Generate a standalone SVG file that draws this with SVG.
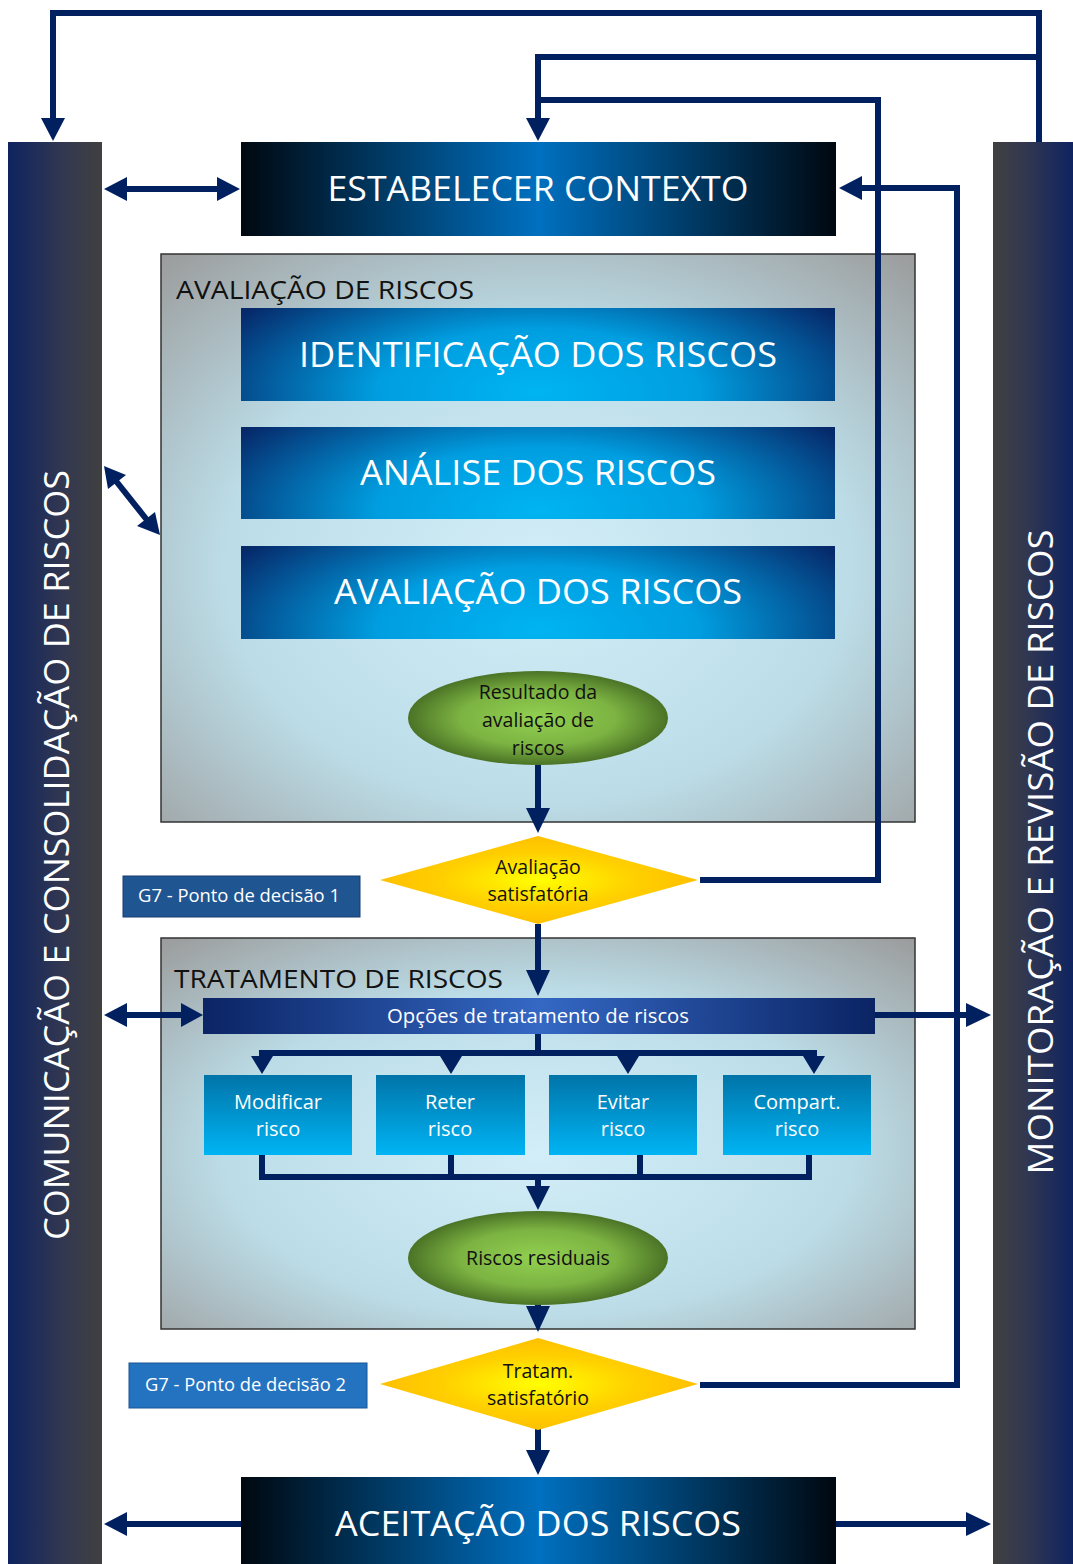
<svg xmlns="http://www.w3.org/2000/svg" width="1073" height="1564" viewBox="0 0 1073 1564">
<defs>
<linearGradient id="barL" x1="0" y1="0" x2="1" y2="0"><stop offset="0" stop-color="#0e2360"/><stop offset="0.6" stop-color="#333850"/><stop offset="1" stop-color="#404040"/></linearGradient>
<linearGradient id="barR" x1="0" y1="0" x2="1" y2="0"><stop offset="0" stop-color="#404040"/><stop offset="0.4" stop-color="#333850"/><stop offset="1" stop-color="#0e2360"/></linearGradient>
<linearGradient id="dark" x1="0" y1="0" x2="1" y2="0"><stop offset="0" stop-color="#000810"/><stop offset="0.5" stop-color="#0070c0"/><stop offset="1" stop-color="#000810"/></linearGradient>
<radialGradient id="panel" cx="0.5" cy="0.55" r="0.75"><stop offset="0" stop-color="#d2eef8"/><stop offset="0.55" stop-color="#bcdde8"/><stop offset="1" stop-color="#9a9a9a"/></radialGradient>
<radialGradient id="step" cx="0.5" cy="0.9" r="0.6" gradientTransform="translate(0.5 0.9) scale(1 2.5) translate(-0.5 -0.9)"><stop offset="0" stop-color="#00b4f2"/><stop offset="0.45" stop-color="#009ee0"/><stop offset="1" stop-color="#06296a"/></radialGradient>
<radialGradient id="green" cx="0.5" cy="0.5" r="0.5"><stop offset="0" stop-color="#92d050"/><stop offset="0.6" stop-color="#7cb342"/><stop offset="1" stop-color="#4b7326"/></radialGradient>
<radialGradient id="gold" cx="0.5" cy="0.5" r="0.5"><stop offset="0" stop-color="#ffff00"/><stop offset="0.6" stop-color="#ffd000"/><stop offset="1" stop-color="#ffc000"/></radialGradient>
<linearGradient id="opt" x1="0" y1="0" x2="1" y2="0"><stop offset="0" stop-color="#0b2464"/><stop offset="0.5" stop-color="#3468c4"/><stop offset="1" stop-color="#0b2464"/></linearGradient>
<linearGradient id="choice" x1="0" y1="0" x2="0" y2="1"><stop offset="0" stop-color="#0074a8"/><stop offset="1" stop-color="#00b4f4"/></linearGradient>
</defs>
<style>
.line{fill:none;stroke:#002060;stroke-width:6}
.head{fill:#002060}
.big{font-family:"Open Sans","DejaVu Sans",sans-serif;fill:#fff;font-size:35px;text-anchor:middle}
.hdr{font-family:"Open Sans","DejaVu Sans",sans-serif;fill:#111;font-size:26px}
.bar{font-family:"Open Sans","DejaVu Sans",sans-serif;fill:#fff;font-size:34px;text-anchor:middle}
.sm{font-family:"Open Sans","DejaVu Sans",sans-serif;fill:#111;font-size:19.5px;text-anchor:middle}
.smw{font-family:"Open Sans","DejaVu Sans",sans-serif;fill:#fff;font-size:20px;text-anchor:middle}
.lbl{font-family:"Open Sans","DejaVu Sans",sans-serif;fill:#fff;font-size:18px}
</style>
<rect width="1073" height="1564" fill="#fff"/>

<g id="bar-left">
<rect x="8" y="142" width="94" height="1422" fill="url(#barL)"/>
<text class="bar" transform="translate(69 855) rotate(-90)" textLength="770" lengthAdjust="spacingAndGlyphs">COMUNICAÇÃO E CONSOLIDAÇÃO DE RISCOS</text>
</g>
<g id="bar-right">
<rect x="993" y="142" width="80" height="1422" fill="url(#barR)"/>
<text class="bar" transform="translate(1053 852) rotate(-90)" textLength="645" lengthAdjust="spacingAndGlyphs">MONITORAÇÃO E REVISÃO DE RISCOS</text>
</g>

<g id="panel-avaliacao">
<rect x="161" y="254" width="754" height="568" fill="url(#panel)" stroke="#333" stroke-width="1.5"/>
<text class="hdr" x="176" y="299" textLength="298" lengthAdjust="spacingAndGlyphs">AVALIAÇÃO DE RISCOS</text>
</g>
<g id="panel-tratamento">
<rect x="161" y="938" width="754" height="391" fill="url(#panel)" stroke="#333" stroke-width="1.5"/>
<text class="hdr" x="174" y="988" textLength="329" lengthAdjust="spacingAndGlyphs">TRATAMENTO DE RISCOS</text>
</g>

<g id="connectors">
<polyline class="line" points="1039,142 1039,13 53,13 53,122" />
<path class="head" d="M41,118 L65,118 L53,141 z"/>
<polyline class="line" points="1039,57 538,57 538,122"/>
<path class="head" d="M526,118 L550,118 L538,141 z"/>
<polyline class="line" points="700,880 878,880 878,100 538,100"/>
<polyline class="line" points="700,1385 957,1385 957,188 858,188"/>
<path class="head" d="M862,176 L862,200 L839,188 z"/>
<line class="line" x1="124" y1="189" x2="220" y2="189"/>
<path class="head" d="M127,177 L127,201 L104,189 z"/>
<path class="head" d="M217,177 L217,201 L240,189 z"/>
<line class="line" x1="116" y1="481" x2="147" y2="520"/>
<path class="head" d="M104,466 L126,475 L108,489 z"/>
<path class="head" d="M160,535 L137,526 L155,512 z"/>
<line class="line" x1="538" y1="765" x2="538" y2="812"/>
<path class="head" d="M526,808 L550,808 L538,833 z"/>
<line class="line" x1="538" y1="924" x2="538" y2="974"/>
<path class="head" d="M526,970 L550,970 L538,996 z"/>
<line class="line" x1="124" y1="1015" x2="185" y2="1015"/>
<path class="head" d="M127,1003 L127,1027 L104,1015 z"/>
<path class="head" d="M181,1003 L181,1027 L203,1015 z"/>
<line class="line" x1="875" y1="1015" x2="970" y2="1015"/>
<path class="head" d="M966,1003 L966,1027 L991,1015 z"/>
<line class="line" x1="538" y1="1034" x2="538" y2="1053"/>
<polyline class="line" points="262,1064 262,1053 814,1053 814,1064"/>
<line class="line" x1="451" y1="1053" x2="451" y2="1064"/>
<line class="line" x1="628" y1="1053" x2="628" y2="1064"/>
<path class="head" d="M251,1056 L273,1056 L262,1074 z M440,1056 L462,1056 L451,1074 z M617,1056 L639,1056 L628,1074 z M803,1056 L825,1056 L814,1074 z"/>
<polyline class="line" points="262,1155 262,1177 809,1177 809,1155"/>
<line class="line" x1="451" y1="1155" x2="451" y2="1177"/>
<line class="line" x1="640" y1="1155" x2="640" y2="1177"/>
<line class="line" x1="538" y1="1177" x2="538" y2="1190"/>
<path class="head" d="M526,1186 L550,1186 L538,1210 z"/>
<line class="line" x1="538" y1="1304" x2="538" y2="1314"/>
<path class="head" d="M526,1306 L550,1306 L538,1332 z"/>
<line class="line" x1="538" y1="1428" x2="538" y2="1454"/>
<path class="head" d="M526,1450 L550,1450 L538,1475 z"/>
<line class="line" x1="124" y1="1524" x2="241" y2="1524"/>
<path class="head" d="M127,1512 L127,1536 L104,1524 z"/>
<line class="line" x1="836" y1="1524" x2="970" y2="1524"/>
<path class="head" d="M966,1512 L966,1536 L991,1524 z"/>
</g>

<g id="estabelecer">
<rect x="241" y="142" width="595" height="94" fill="url(#dark)"/>
<text class="big" x="538" y="201" textLength="421" lengthAdjust="spacingAndGlyphs">ESTABELECER CONTEXTO</text>
</g>
<g id="identificacao">
<rect x="241" y="308" width="594" height="93" fill="url(#step)"/>
<text class="big" x="538" y="367" textLength="478" lengthAdjust="spacingAndGlyphs">IDENTIFICAÇÃO DOS RISCOS</text>
</g>
<g id="analise">
<rect x="241" y="427" width="594" height="92" fill="url(#step)"/>
<text class="big" x="538" y="485" textLength="356" lengthAdjust="spacingAndGlyphs">ANÁLISE DOS RISCOS</text>
</g>
<g id="avaliacao">
<rect x="241" y="546" width="594" height="93" fill="url(#step)"/>
<text class="big" x="538" y="604" textLength="408" lengthAdjust="spacingAndGlyphs">AVALIAÇÃO DOS RISCOS</text>
</g>
<g id="resultado">
<ellipse cx="538" cy="718" rx="130" ry="47" fill="url(#green)"/>
<text class="sm" x="538" y="699">Resultado da</text>
<text class="sm" x="538" y="727">avaliação de</text>
<text class="sm" x="538" y="755">riscos</text>
</g>
<g id="decisao1">
<path d="M538,836 L698,880 L538,924 L380,880 z" fill="url(#gold)"/>
<text class="sm" x="538" y="874">Avaliação</text>
<text class="sm" x="538" y="901">satisfatória</text>
</g>
<g id="g7-1">
<rect x="123" y="876" width="237" height="41" fill="#1f5591" stroke="#163f70" stroke-width="1"/>
<text class="lbl" x="138" y="902" textLength="202" lengthAdjust="spacingAndGlyphs">G7 - Ponto de decisão 1</text>
</g>
<g id="opcoes">
<rect x="203" y="998" width="672" height="36" fill="url(#opt)"/>
<text class="smw" x="538" y="1023" textLength="302" lengthAdjust="spacingAndGlyphs">Opções de tratamento de riscos</text>
</g>
<g id="modificar">
<rect x="204" y="1075" width="148" height="80" fill="url(#choice)"/>
<text class="smw" x="278" y="1109">Modificar</text>
<text class="smw" x="278" y="1136">risco</text>
</g>
<g id="reter">
<rect x="376" y="1075" width="149" height="80" fill="url(#choice)"/>
<text class="smw" x="450" y="1109">Reter</text>
<text class="smw" x="450" y="1136">risco</text>
</g>
<g id="evitar">
<rect x="549" y="1075" width="148" height="80" fill="url(#choice)"/>
<text class="smw" x="623" y="1109">Evitar</text>
<text class="smw" x="623" y="1136">risco</text>
</g>
<g id="compart">
<rect x="723" y="1075" width="148" height="80" fill="url(#choice)"/>
<text class="smw" x="797" y="1109">Compart.</text>
<text class="smw" x="797" y="1136">risco</text>
</g>
<g id="residuais">
<ellipse cx="538" cy="1258" rx="130" ry="47" fill="url(#green)"/>
<text class="sm" x="538" y="1265">Riscos residuais</text>
</g>
<g id="decisao2">
<path d="M538,1338 L698,1384 L538,1430 L380,1384 z" fill="url(#gold)"/>
<text class="sm" x="538" y="1378">Tratam.</text>
<text class="sm" x="538" y="1405">satisfatório</text>
</g>
<g id="g7-2">
<rect x="129" y="1363" width="238" height="45" fill="#2473c0" stroke="#1b5596" stroke-width="1"/>
<text class="lbl" x="145" y="1391" textLength="201" lengthAdjust="spacingAndGlyphs">G7 - Ponto de decisão 2</text>
</g>
<g id="aceitacao">
<rect x="241" y="1477" width="595" height="87" fill="url(#dark)"/>
<text class="big" x="538" y="1536" textLength="406" lengthAdjust="spacingAndGlyphs">ACEITAÇÃO DOS RISCOS</text>
</g>
</svg>
